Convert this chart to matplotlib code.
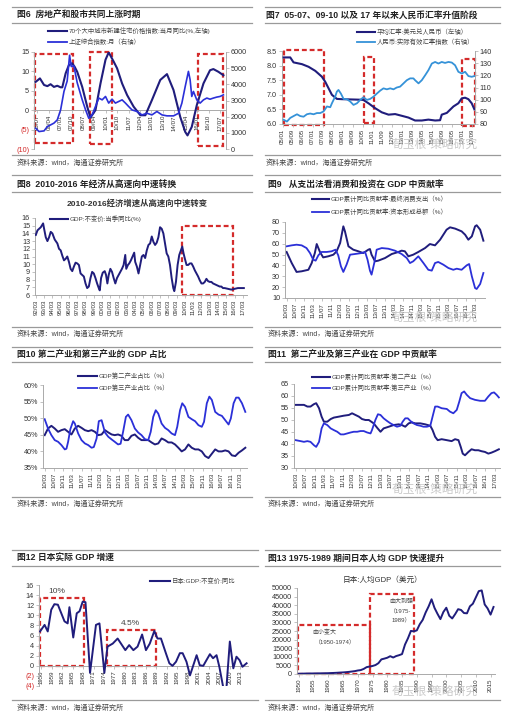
import numpy as np
import matplotlib
matplotlib.use('Agg')
import matplotlib.pyplot as plt
from matplotlib.lines import Line2D
from matplotlib.patches import Rectangle

plt.rcParams['font.family'] = ['Liberation Sans', 'Noto Sans CJK SC']

# ---------------- data ----------------
fig6_ticks = ['05/07', '06/04', '07/01', '07/10', '08/07', '09/04', '10/01', '10/10', '11/07',
              '12/04', '13/01', '13/10', '14/07', '15/04', '16/01', '16/10', '17/07']
fig6_house_t = [2005.39, 2005.67, 2005.94, 2006.16, 2006.37, 2006.59, 2006.81, 2007.03, 2007.14,
                2007.36, 2007.57, 2007.79, 2007.95, 2008.12, 2008.45, 2008.78, 2008.99, 2009.32,
                2009.65, 2009.98, 2010.19, 2010.52, 2010.74, 2011.07, 2011.4, 2011.83, 2012.27,
                2012.6, 2013.03, 2013.58, 2014.02, 2014.45, 2014.89, 2015.22, 2015.37, 2015.65,
                2015.98, 2016.42, 2016.85, 2017.07, 2017.4, 2017.73]
fig6_house_v = [7.3, 8.2, 6.5, 6.2, 6.7, 6.0, 6.3, 5.9, 5.9, 9.5, 11.6, 12.1, 11.2, 9.9, 6.0, 0.9,
                -1.9, 0.0, 6.9, 13.0, 14.9, 12.5, 10.8, 6.9, 3.9, 0.9, -1.3, -1.3, 2.6, 7.8, 9.3,
                5.2, -1.7, -5.6, -6.5, -4.3, 1.3, 6.9, 10.3, 10.6, 9.9, 9.0]
fig6_sh_t = [2005.39, 2005.61, 2005.94, 2006.16, 2006.37, 2006.59, 2006.81, 2007.03, 2007.25,
             2007.46, 2007.62, 2007.73, 2007.9, 2008.12, 2008.45, 2008.67, 2008.88, 2009.1,
             2009.32, 2009.54, 2009.76, 2009.98, 2010.19, 2010.41, 2010.63, 2010.85, 2011.07,
             2011.29, 2011.5, 2011.72, 2012.05, 2012.38, 2012.7, 2013.03, 2013.36, 2013.69,
             2014.02, 2014.45, 2014.78, 2015.0, 2015.22, 2015.43, 2015.54, 2015.65, 2015.76,
             2015.98, 2016.2, 2016.42, 2016.64, 2016.85, 2017.07, 2017.29, 2017.51, 2017.73]
fig6_sh_v = [1280, 1080, 1120, 1390, 1490, 1600, 1800, 2420, 3560, 4200, 5800, 5100, 5150, 4100,
             3040, 2420, 1900, 2110, 2630, 3150, 3040, 3250, 2840, 3080, 2840, 2940, 3040, 2840,
             2630, 2420, 2320, 2110, 2210, 2110, 2320, 2110, 2050, 2050, 2210, 2840, 3870, 4800,
             4290, 3250, 3560, 3040, 2840, 3040, 3150, 3080, 3150, 3210, 3250, 3350]
fig6_periods = [(2005.33, 2007.86, -8.4, 14.4), (2008.95, 2010.41, -8.6, 14.9),
                (2016.09, 2017.68, -9.2, 14.4)]

fig7_ticks = ['05/01', '05/09', '06/05', '07/01', '07/09', '08/05', '09/01', '09/09', '10/05',
              '11/01', '11/09', '12/05', '13/01', '13/09', '14/05', '15/01', '15/09', '16/05',
              '17/01', '17/09']
fig7_fx_t = [2005.07, 2005.51, 2005.73, 2006.29, 2006.73, 2007.18, 2007.62, 2007.84, 2008.07,
             2008.29, 2008.62, 2008.96, 2010.29, 2010.4, 2010.73, 2011.18, 2011.62, 2012.07,
             2012.51, 2012.96, 2013.4, 2013.84, 2014.29, 2014.73, 2015.18, 2015.51, 2015.62,
             2015.96, 2016.18, 2016.4, 2016.73, 2016.96, 2017.18, 2017.4, 2017.62, 2017.8]
fig7_fx_v = [8.28, 8.28, 8.11, 8.05, 7.96, 7.82, 7.62, 7.45, 7.22, 7.0, 6.86, 6.85, 6.83, 6.82,
             6.71, 6.54, 6.40, 6.32, 6.34, 6.28, 6.22, 6.12, 6.12, 6.15, 6.12, 6.13, 6.32, 6.38,
             6.49, 6.6, 6.71, 6.88, 6.9, 6.85, 6.71, 6.5]
fig7_reer_t = [2005.07, 2005.29, 2005.51, 2005.73, 2005.96, 2006.18, 2006.4, 2006.62, 2006.84,
               2007.07, 2007.29, 2007.51, 2007.73, 2007.96, 2008.18, 2008.29, 2008.4, 2008.51,
               2008.62, 2008.73, 2008.89, 2009.07, 2009.29, 2009.51, 2009.73, 2009.96, 2010.18,
               2010.4, 2010.62, 2010.84, 2011.07, 2011.29, 2011.51, 2011.73, 2011.96, 2012.18,
               2012.4, 2012.62, 2012.84, 2013.07, 2013.29, 2013.51, 2013.73, 2013.84, 2014.07,
               2014.29, 2014.51, 2014.73, 2014.96, 2015.18, 2015.4, 2015.62, 2015.84, 2016.07,
               2016.29, 2016.51, 2016.73, 2016.96, 2017.18, 2017.4, 2017.62, 2017.8]
fig7_reer_v = [83.5, 82, 85, 86.5, 88, 86.5, 86, 88, 88.6, 88, 89, 89, 90.3, 94.4, 93.8, 97, 99.8,
               102.5, 106.6, 108, 105, 100.6, 100.4, 98.5, 95.7, 97, 99.8, 102, 99.8, 100.6, 102.5,
               105, 107.4, 109.3, 108.5, 109.3, 108.5, 110, 110.7, 113.4, 116, 117.5, 117.5, 116,
               113.4, 116, 120, 124.2, 129.7, 131, 129.7, 131, 130.2, 131, 130.5, 128.3, 122.9,
               121.5, 122.9, 119.4, 118.8, 119.4]
fig7_periods = [(2005.07, 2007.73, 5.98, 8.55), (2010.4, 2011.07, 6.03, 8.3),
                (2017.0, 2017.84, 5.94, 8.24)]

fig8_ticks = ['92/03', '93/03', '94/03', '95/03', '96/03', '97/03', '98/03', '99/03', '00/03',
              '01/03', '02/03', '03/03', '04/03', '05/03', '06/03', '07/03', '08/03', '09/03',
              '10/03', '11/03', '12/03', '13/03', '14/03', '15/03', '16/03', '17/03']
fig8_t = [1992.0, 1992.2, 1992.6, 1992.88, 1993.0, 1993.2, 1993.4, 1993.6, 1993.8, 1994.0, 1994.28,
          1994.6, 1994.8, 1995.0, 1995.2, 1995.4, 1995.6, 1995.8, 1996.0, 1996.2, 1996.4, 1996.6,
          1996.8, 1997.0, 1997.2, 1997.4, 1997.6, 1997.8, 1998.0, 1998.2, 1998.4, 1998.6, 1998.8,
          1999.0, 1999.2, 1999.4, 1999.6, 1999.72, 1999.88, 2000.08, 2000.32, 2000.48, 2000.64,
          2000.8, 2001.0, 2001.2, 2001.4, 2001.6, 2001.8, 2002.0, 2002.2, 2002.4, 2002.6, 2002.8,
          2002.92, 2003.12, 2003.28, 2003.48, 2003.68, 2003.88, 2004.0, 2004.2, 2004.4, 2004.6,
          2004.8, 2005.0, 2005.2, 2005.4, 2005.6, 2005.8, 2006.0, 2006.2, 2006.4, 2006.6, 2006.8,
          2007.0, 2007.2, 2007.4, 2007.6, 2007.8, 2008.0, 2008.2, 2008.4, 2008.6, 2008.72, 2008.92,
          2009.12, 2009.32, 2009.52, 2009.68, 2009.84, 2010.0, 2010.2, 2010.4, 2010.6, 2010.8,
          2011.0, 2011.2, 2011.4, 2011.6, 2011.8, 2012.0, 2012.2, 2012.4, 2012.6, 2012.8, 2013.0,
          2013.2, 2013.4, 2013.6, 2013.8, 2014.0, 2014.2, 2014.4, 2014.6, 2014.8, 2015.2, 2015.6,
          2016.0, 2016.4, 2016.8, 2017.12]
fig8_v = [13.8, 14.4, 14.8, 15.3, 14.6, 13.5, 13.0, 13.5, 14.2, 14.0, 13.2, 12.7, 12.0, 11.8, 11.1,
          10.5, 10.7, 11.0, 10.3, 9.4, 9.1, 9.7, 10.2, 10.1, 9.9, 8.8, 8.6, 8.4, 7.5, 6.9, 7.1, 8.2,
          9.0, 8.8, 8.2, 7.5, 6.9, 6.6, 8.2, 8.9, 9.1, 8.6, 7.5, 8.6, 9.4, 9.0, 8.2, 7.5, 8.2, 8.6,
          9.0, 9.4, 9.9, 11.2, 9.4, 9.9, 10.1, 10.5, 11.0, 11.5, 10.3, 9.7, 8.8, 9.9, 11.0, 11.2,
          10.8, 11.8, 12.5, 12.7, 13.6, 12.9, 12.5, 12.8, 13.5, 14.8, 14.6, 14.0, 12.7, 11.4, 11.0,
          9.9, 8.2, 6.9, 6.5, 7.7, 9.9, 11.2, 11.8, 12.3, 11.4, 10.7, 9.9, 9.9, 10.1, 10.1, 9.7,
          9.2, 8.8, 8.4, 7.9, 7.5, 7.5, 7.7, 8.1, 7.8, 7.7, 7.7, 7.5, 7.4, 7.3, 7.2, 7.1, 7.1, 6.9,
          6.9, 6.8, 6.7, 6.8, 6.9, 6.9, 6.9]
fig8_period = (2009.6, 2015.8, 6.0, 14.9)

quarter_ticks = ['10/03', '10/07', '10/11', '11/03', '11/07', '11/11', '12/03', '12/07', '12/11',
                 '13/03', '13/07', '13/11', '14/03', '14/07', '14/11', '15/03', '15/07', '15/11',
                 '16/03', '16/07', '16/11', '17/03']
fig9_cons_t = [2010.17, 2010.36, 2010.54, 2010.73, 2010.98, 2011.1, 2011.22, 2011.29, 2011.41,
               2011.53, 2011.72, 2011.91, 2012.03, 2012.16, 2012.28, 2012.34, 2012.47, 2012.65,
               2012.84, 2013.02, 2013.21, 2013.27, 2013.33, 2013.46, 2013.58, 2013.83, 2014.08,
               2014.33, 2014.45, 2014.57, 2014.7, 2014.88, 2015.07, 2015.32, 2015.5, 2015.69,
               2015.88, 2016.12, 2016.25, 2016.44, 2016.68, 2016.81, 2016.93, 2017.06, 2017.18,
               2017.24, 2017.37, 2017.49]
fig9_cons_v = [52.4, 42.2, 34, 34.6, 36, 42, 51.4, 59.7, 52.4, 47.4, 48.4, 49.9, 53, 60.6, 76,
               71.4, 57.6, 54.5, 53, 51.4, 54.5, 55.1, 49.9, 43.8, 44.4, 46.8, 50.5, 52.4, 53.6, 53,
               48.4, 49.9, 52.4, 56, 59.7, 58.5, 63.7, 72.9, 75.1, 73.9, 71.4, 68.3, 63.7, 66.8, 76,
               77, 72.9, 62.8]
fig9_inv_t = [2010.17, 2010.36, 2010.54, 2010.73, 2010.91, 2011.04, 2011.16, 2011.25, 2011.35,
              2011.47, 2011.66, 2011.84, 2011.99, 2012.09, 2012.19, 2012.28, 2012.4, 2012.53,
              2012.71, 2012.96, 2013.09, 2013.18, 2013.27, 2013.33, 2013.43, 2013.52, 2013.71,
              2013.95, 2014.2, 2014.45, 2014.64, 2014.76, 2014.88, 2015.07, 2015.26, 2015.44,
              2015.57, 2015.69, 2015.81, 2016.0, 2016.19, 2016.37, 2016.5, 2016.68, 2016.87,
              2016.96, 2017.06, 2017.18, 2017.24, 2017.37, 2017.49]
fig9_inv_v = [57.6, 58.5, 59.1, 58.5, 56, 51.4, 45.3, 44.4, 49.3, 52.4, 52.4, 53, 54.5, 49.3, 39.2,
              34, 40.7, 49.9, 50.5, 51.4, 52.4, 45.3, 35.2, 31.5, 42.2, 54.5, 56, 55.4, 53.6, 50.5,
              46.8, 42.2, 43.8, 48.4, 42.2, 36, 35.2, 42.2, 43.2, 40.7, 37.6, 36, 37, 36, 40.1, 41.3,
              30, 19.2, 18.3, 22.9, 33]

fig10_sec_t = [2010.17, 2010.29, 2010.41, 2010.53, 2010.65, 2010.77, 2010.89, 2011.01, 2011.13,
               2011.25, 2011.37, 2011.49, 2011.61, 2011.73, 2011.85, 2011.97, 2012.09, 2012.21,
               2012.33, 2012.45, 2012.57, 2012.68, 2012.8, 2012.92, 2013.04, 2013.16, 2013.28,
               2013.4, 2013.52, 2013.64, 2013.76, 2013.88, 2014.0, 2014.12, 2014.24, 2014.36,
               2014.48, 2014.6, 2014.72, 2014.84, 2014.96, 2015.08, 2015.2, 2015.32, 2015.44,
               2015.56, 2015.68, 2015.8, 2015.92, 2016.04, 2016.16, 2016.28, 2016.4, 2016.52,
               2016.64, 2016.76, 2016.88, 2017.0, 2017.12, 2017.24, 2017.36]
fig10_sec_v = [44.9, 46.9, 47.7, 46.9, 45.9, 46.4, 46.7, 45.9, 45.1, 46.9, 47.7, 47.1, 46.4, 46.1,
               46.4, 45.9, 44.9, 45.1, 46.4, 45.7, 45.1, 44.9, 45.1, 44.7, 43.4, 43.4, 44.7, 45.1,
               44.1, 43.4, 43.4, 43.4, 42.7, 42.1, 42.4, 43.9, 43.4, 42.7, 42.7, 42.1, 41.1, 40.0,
               40.6, 42.1, 41.1, 40.6, 40.6, 40.0, 38.6, 38.0, 39.3, 40.6, 40.0, 40.0, 40.3, 40.0,
               38.8, 38.6, 39.6, 40.3, 41.1]
fig10_ter_t = [2010.17, 2010.29, 2010.41, 2010.53, 2010.65, 2010.77, 2010.89, 2010.95, 2011.01,
               2011.09, 2011.19, 2011.25, 2011.37, 2011.49, 2011.61, 2011.73, 2011.85, 2011.93,
               2012.03, 2012.11, 2012.21, 2012.33, 2012.45, 2012.57, 2012.68, 2012.8, 2012.89,
               2012.98, 2013.08, 2013.16, 2013.28, 2013.4, 2013.52, 2013.64, 2013.76, 2013.88,
               2013.97, 2014.06, 2014.15, 2014.24, 2014.36, 2014.48, 2014.6, 2014.72, 2014.84,
               2014.92, 2015.02, 2015.1, 2015.2, 2015.32, 2015.44, 2015.56, 2015.68, 2015.8,
               2015.88, 2015.98, 2016.07, 2016.16, 2016.28, 2016.4, 2016.52, 2016.64, 2016.76,
               2016.84, 2016.94, 2017.03, 2017.12, 2017.24, 2017.36]
fig10_ter_v = [49.7, 46.9, 44.9, 43.4, 42.9, 41.9, 40.6, 40.8, 42.9, 46.7, 49.1, 48.4, 45.4, 43.4,
               42.4, 41.9, 41.1, 41.3, 43.9, 49.1, 49.4, 45.7, 44.4, 43.6, 42.9, 42.1, 42.3, 45.9,
               50.4, 51.1, 49.4, 46.9, 45.7, 44.9, 43.7, 43.4, 45.9, 50.4, 52.4, 51.4, 48.4, 47.1,
               46.4, 45.4, 44.9, 47.4, 52.4, 54.5, 53.4, 50.4, 49.7, 49.1, 47.9, 47.4, 48.9, 54.5,
               56.5, 55.5, 51.9, 51.1, 50.7, 49.4, 48.1, 49.9, 54.5, 56.2, 56.2, 54.5, 51.9]

fig11_sec_t = [2010.17, 2010.34, 2010.46, 2010.58, 2010.69, 2010.81, 2010.89, 2010.99, 2011.08,
               2011.16, 2011.28, 2011.4, 2011.51, 2011.69, 2011.86, 2012.04, 2012.15, 2012.27,
               2012.39, 2012.5, 2012.62, 2012.74, 2012.91, 2013.03, 2013.15, 2013.26, 2013.44,
               2013.61, 2013.79, 2013.9, 2014.02, 2014.14, 2014.25, 2014.37, 2014.55, 2014.72,
               2014.9, 2014.98, 2015.07, 2015.16, 2015.3, 2015.48, 2015.65, 2015.77, 2015.89,
               2015.97, 2016.04, 2016.12, 2016.24, 2016.35, 2016.47, 2016.59, 2016.7, 2016.82,
               2016.94, 2017.05, 2017.17, 2017.31]
fig11_sec_v = [56.3, 56.3, 56.3, 55.6, 55.6, 56.6, 57.0, 54.9, 51.4, 49.3, 49.3, 50.4, 51.0, 51.4,
               51.8, 52.1, 52.8, 52.1, 51.4, 50.4, 50.0, 50.0, 48.6, 46.8, 45.1, 46.5, 47.2, 47.9,
               48.2, 47.9, 47.2, 48.6, 49.0, 48.6, 48.6, 48.2, 47.6, 45.8, 43.0, 41.6, 42.0, 41.6,
               41.2, 42.0, 41.6, 38.8, 36.0, 35.3, 36.7, 37.8, 37.4, 37.4, 37.0, 36.7, 36.0, 36.4,
               37.0, 37.8]
fig11_ter_t = [2010.17, 2010.34, 2010.46, 2010.58, 2010.69, 2010.81, 2010.89, 2010.99, 2011.08,
               2011.16, 2011.28, 2011.4, 2011.51, 2011.63, 2011.75, 2011.86, 2011.98, 2012.1,
               2012.21, 2012.33, 2012.45, 2012.56, 2012.68, 2012.8, 2012.85, 2012.97, 2013.06,
               2013.15, 2013.26, 2013.38, 2013.5, 2013.61, 2013.73, 2013.85, 2013.93, 2014.02,
               2014.11, 2014.2, 2014.31, 2014.43, 2014.55, 2014.66, 2014.78, 2014.9, 2014.98,
               2015.07, 2015.16, 2015.3, 2015.48, 2015.59, 2015.71, 2015.83, 2015.92, 2016.0,
               2016.09, 2016.18, 2016.3, 2016.47, 2016.65, 2016.82, 2016.94, 2017.05, 2017.14,
               2017.23, 2017.31]
fig11_ter_v = [41.6, 41.2, 40.9, 41.2, 40.9, 39.5, 38.8, 40.9, 46.5, 48.6, 47.9, 46.5, 45.8, 45.1,
               44.0, 44.0, 44.4, 44.8, 45.1, 45.1, 45.4, 45.4, 44.8, 44.4, 45.8, 50.0, 52.4, 52.1,
               50.7, 49.6, 48.6, 47.9, 47.2, 47.6, 49.3, 50.7, 50.7, 49.6, 48.6, 47.9, 47.6, 47.2,
               47.2, 47.6, 51.4, 55.6, 55.6, 54.9, 54.6, 53.5, 52.8, 54.2, 57.7, 61.2, 61.9, 60.5,
               59.1, 58.4, 58.0, 58.0, 59.8, 61.2, 61.5, 60.5, 59.4]

fig12_ticks = ['1956', '1959', '1962', '1965', '1968', '1971', '1974', '1977', '1980', '1983',
               '1986', '1989', '1992', '1995', '1998', '2001', '2004', '2007', '2010', '2013']
fig12_t = [1955.7, 1957.0, 1957.9, 1958.9, 1959.8, 1960.8, 1962.7, 1963.6, 1964.1, 1965.2, 1966.2,
           1967.0, 1967.9, 1968.7, 1970.0, 1971.7, 1972.7, 1974.1, 1975.0, 1976.5, 1977.9, 1980.1,
           1981.2, 1982.4, 1983.6, 1984.9, 1986.0, 1987.1, 1988.4, 1989.3, 1990.3, 1991.7, 1992.7,
           1993.6, 1994.6, 1995.7, 1996.5, 1997.6, 1998.6, 1999.5, 2000.5, 2001.4, 2002.4, 2003.3,
           2004.3, 2005.2, 2006.2, 2007.0, 2008.2, 2009.0, 2010.0, 2011.0, 2011.9, 2012.8, 2013.6,
           2014.8]
fig12_v = [6.8, 8.1, 6.8, 11.1, 12.2, 12.1, 8.8, 8.4, 11.6, 5.6, 10.4, 10.8, 12.7, 12.6, -1.4, 8.1,
           8.4, -1.4, 3.8, 4.4, 5.4, 3.1, 4.1, 3.1, 3.8, 6.2, 3.1, 4.4, 6.9, 5.4, 5.4, 2.5, 0.5, 0.0,
           0.8, 2.5, 2.5, 0.8, -1.9, 0.0, 2.1, 0.1, 0.0, 1.1, 2.3, 1.5, 2.1, -0.2, -4.6, -4.6, 4.8,
           -0.5, 1.8, 1.1, -0.2, 0.5]
fig12_periods = [(1955.7, 1968.4, 0, 13.4, '10%'), (1974.9, 1989.0, 0, 7.1, '4.5%')]

fig13_ticks = ['1950', '1955', '1960', '1965', '1970', '1975', '1980', '1985', '1990', '1995',
               '2000', '2005', '2010', '2015']
fig13_year = list(range(1950, 2017))
fig13_gdp = [150, 200, 250, 280, 300, 320, 350, 380, 400, 440, 480, 560, 630, 720, 840, 920, 1060,
             1230, 1450, 1670, 2040, 2270, 2950, 3990, 4350, 4660, 5200, 6300, 8500, 8950, 9460,
             10360, 9580, 10430, 10940, 11580, 17110, 20750, 25050, 24810, 25360, 28920, 31460,
             35770, 39270, 43440, 38440, 35020, 31900, 36030, 38530, 33850, 32290, 34810, 37690,
             37220, 35430, 35280, 39340, 40860, 44510, 48170, 48600, 40450, 38110, 34520, 38970]
fig13_periods = [(1949.8, 1974.1, 0, 28400), (1974.1, 1989.2, 0, 46300)]

# ---------------- drawing ----------------
W, H = 527, 718
NAVY = '#201d7c'
BLUE = '#2b30d8'
SKY = '#3592d8'
RED = '#d42b2b'
TXT = '#333333'
RULE = '#9a9a9a'
SOURCE = '资料来源：wind，海通证券研究所'

fig = plt.figure(figsize=(W / 100, H / 100), dpi=100)


def pax(x0, y0, x1, y1):
    ax = fig.add_axes([x0 / W, 1 - y1 / H, (x1 - x0) / W, (y1 - y0) / H])
    ax.patch.set_alpha(0)
    for s in ['top', 'right']:
        ax.spines[s].set_visible(False)
    for s in ['left', 'bottom']:
        ax.spines[s].set_color('#aaaaaa')
        ax.spines[s].set_linewidth(0.7)
    ax.tick_params(labelsize=5.2, length=2, width=0.5, color='#aaaaaa', pad=1.5, labelcolor=TXT)
    return ax


def rule(x0, x1, y):
    fig.add_artist(Line2D([x0 / W, x1 / W], [1 - y / H] * 2, color=RULE, lw=0.9))


def ftext(x, y, s, **kw):
    kw.setdefault('va', 'center')
    fig.text(x / W, 1 - y / H, s, **kw)


def legend_entry(x0, x1, y, color, lw, label, size=4.6):
    fig.add_artist(Line2D([x0 / W, x1 / W], [1 - y / H] * 2, color=color, lw=lw))
    ftext(x1 + 2, y, label, fontsize=size, color='#444444')


def panel(x0, x1, ytop, ytitle, ymid, ybot, ysrc, title, tx):
    rule(x0, x1, ytop)
    ftext(tx, ytitle, title, fontsize=6.3, fontweight='bold', color='#222222')
    rule(x0, x1, ymid)
    rule(x0, x1, ybot)
    ftext(tx, ysrc, SOURCE, fontsize=5.1, color='#444444')


def dashed(ax, x0, x1, y0, y1):
    ax.add_patch(Rectangle((x0, y0), x1 - x0, y1 - y0, fill=False, ec=RED, lw=1.6,
                           ls=(0, (2.2, 1.3)), clip_on=False, zorder=1))


def lab2x(s):
    yy, mm = s.split('/')
    yy = int(yy)
    return (1900 if yy >= 50 else 2000) + yy + (int(mm) - 1) / 12


def set_xt(ax, pos, labels):
    ax.set_xticks(pos)
    ax.set_xticklabels(labels, rotation=90, fontsize=4.4)


def twin_style(tw):
    tw.patch.set_alpha(0)
    for s in ['top', 'left', 'bottom']:
        tw.spines[s].set_visible(False)
    tw.spines['right'].set_color('#aaaaaa')
    tw.spines['right'].set_linewidth(0.7)
    tw.tick_params(labelsize=5.2, length=2, width=0.5, color='#aaaaaa', pad=1.5, labelcolor=TXT)


def watermark(x, y):
    ftext(x, y, '荀玉根-策略研究', fontsize=8.5, color='#c4c4c4', alpha=0.9)


# ---- Fig 6 ----
panel(12, 252, 7, 15, 23, 155, 163, '图6  房地产和股市共同上涨时期', 17)
legend_entry(48, 67, 31, NAVY, 1.5, '70个大中城市新建住宅价格指数:当月同比(%,左轴)')
legend_entry(48, 67, 42, BLUE, 1.3, '上证综合指数:月（右轴）')
ax = pax(34, 52, 226, 149)
ax.plot(fig6_house_t, fig6_house_v, color=NAVY, lw=1.5, zorder=3)
ax.set_xlim(2005.28, 2017.9)
ax.set_ylim(-10, 15)
ax.set_yticks([-10, -5, 0, 5, 10, 15])
ax.set_yticklabels(['(10)', '(5)', '0', '5', '10', '15'])
for lab in ax.get_yticklabels()[:2]:
    lab.set_color(RED)
ax.spines['bottom'].set_position(('data', 0))
set_xt(ax, [lab2x(s) for s in fig6_ticks], fig6_ticks)
for x0, x1, y0, y1 in fig6_periods:
    dashed(ax, x0, x1, y0, y1)
tw = ax.twinx()
tw.plot(fig6_sh_t, fig6_sh_v, color=BLUE, lw=1.2)
tw.set_ylim(0, 6000)
tw.set_yticks(range(0, 6001, 1000))
twin_style(tw)

# ---- Fig 7 ----
panel(265, 500, 7, 15, 23, 155, 163, '图7  05-07、09-10 以及 17 年以来人民币汇率升值阶段', 266)
legend_entry(357, 375, 32, NAVY, 1.5, '平均汇率:美元兑人民币（左轴）')
legend_entry(357, 375, 42, SKY, 1.3, '人民币:实际有效汇率指数（右轴）')
ax = pax(282, 51, 475, 124)
ax.plot(fig7_fx_t, fig7_fx_v, color=NAVY, lw=1.5, zorder=3)
ax.set_xlim(2004.96, 2017.84)
ax.set_ylim(6.0, 8.5)
ax.set_yticks([6.0, 6.5, 7.0, 7.5, 8.0, 8.5])
ax.set_yticklabels(['6.0', '6.5', '7.0', '7.5', '8.0', '8.5'])
set_xt(ax, [lab2x(s) for s in fig7_ticks], fig7_ticks)
for x0, x1, y0, y1 in fig7_periods:
    dashed(ax, x0, x1, y0, y1)
tw = ax.twinx()
tw.plot(fig7_reer_t, fig7_reer_v, color=SKY, lw=1.3)
tw.set_ylim(80, 140)
tw.set_yticks(range(80, 141, 10))
twin_style(tw)
watermark(392, 145)

# ---- Fig 8 ----
panel(12, 252, 175, 185, 192, 327, 334, '图8  2010-2016 年经济从高速向中速转换', 17)
ftext(137, 204, '2010-2016经济增速从高速向中速转变', fontsize=6, fontweight='bold',
      color='#333333', ha='center')
ax = pax(35, 218, 247, 295)
ax.plot(fig8_t, fig8_v, color=NAVY, lw=1.4, zorder=3)
ax.set_xlim(1991.9, 2017.5)
ax.set_ylim(6, 16)
ax.set_yticks(range(6, 17))
set_xt(ax, np.arange(1992, 2018), fig8_ticks)
dashed(ax, *fig8_period)
legend_entry(50, 68, 219, NAVY, 1.5, 'GDP:不变价:当季同比(%)')

# ---- Fig 9 ----
panel(265, 500, 175, 184, 192, 327, 334, '图9   从支出法看消费和投资在 GDP 中贡献率', 268)
legend_entry(312, 329, 199, NAVY, 1.5, 'GDP累计同比贡献率:最终消费支出（%）')
legend_entry(312, 329, 212, BLUE, 1.3, 'GDP累计同比贡献率:资本形成总额（%）')
ax = pax(285, 222, 485, 298)
ax.plot(fig9_cons_t, fig9_cons_v, color=NAVY, lw=1.4)
ax.plot(fig9_inv_t, fig9_inv_v, color=BLUE, lw=1.3)
ax.set_xlim(2010.11, 2017.55)
ax.set_ylim(10, 80)
ax.set_yticks(range(10, 81, 10))
set_xt(ax, [lab2x(s) for s in quarter_ticks], quarter_ticks)
watermark(392, 318)

# ---- Fig 10 ----
panel(12, 252, 347, 355, 362, 497, 504, '图10 第二产业和第三产业的 GDP 占比', 17)
legend_entry(78, 97, 376, NAVY, 1.5, 'GDP第二产业占比（%）')
legend_entry(78, 97, 388, BLUE, 1.3, 'GDP第三产业占比（%）')
ax = pax(43, 385, 247, 468)
ax.plot(fig10_sec_t, fig10_sec_v, color=NAVY, lw=1.4)
ax.plot(fig10_ter_t, fig10_ter_v, color=BLUE, lw=1.3)
ax.set_xlim(2010.11, 2017.42)
ax.set_ylim(35, 60)
ax.set_yticks(range(35, 61, 5))
ax.set_yticklabels([f'{v}%' for v in range(35, 61, 5)])
set_xt(ax, [lab2x(s) for s in quarter_ticks], quarter_ticks)

# ---- Fig 11 ----
panel(265, 500, 347, 355, 362, 497, 504, '图11  第二产业及第三产业在 GDP 中贡献率', 268)
legend_entry(312, 330, 377, NAVY, 1.5, 'GDP累计同比贡献率:第二产业（%）')
legend_entry(312, 330, 388, BLUE, 1.3, 'GDP累计同比贡献率:第三产业（%）')
ax = pax(294, 384, 500, 468)
ax.plot(fig11_sec_t, fig11_sec_v, color=NAVY, lw=1.4)
ax.plot(fig11_ter_t, fig11_ter_v, color=BLUE, lw=1.3)
ax.set_xlim(2010.11, 2017.35)
ax.set_ylim(30, 65)
ax.set_yticks(range(30, 66, 5))
set_xt(ax, [lab2x(s) for s in quarter_ticks], quarter_ticks)
watermark(392, 490)

# ---- Fig 12 ----
panel(12, 258, 550, 558, 566, 700, 708, '图12 日本实际 GDP 增速', 17)
legend_entry(150, 170, 581, NAVY, 1.5, '日本:GDP:不变价:同比')
ax = pax(39, 585, 248, 686)
ax.plot(fig12_t, fig12_v, color=NAVY, lw=1.4, zorder=3)
ax.set_xlim(1955.4, 2015.2)
ax.set_ylim(-4, 16)
ax.set_yticks(range(-4, 17, 2))
ax.set_yticklabels(['(4)', '(2)'] + [str(v) for v in range(0, 17, 2)])
for lab in ax.get_yticklabels()[:2]:
    lab.set_color(RED)
ax.spines['bottom'].set_position(('data', 0))
set_xt(ax, [int(s) for s in fig12_ticks], fig12_ticks)
for x0, x1, y0, y1, lab in fig12_periods:
    dashed(ax, x0, x1, y0, y1)
    ax.text((x0 + x1) / 2 - 1.5 if lab == '10%' else (x0 + x1) / 2 - 0.5, y1 + 1.3, lab,
            fontsize=6, color='#444444', ha='center', va='center')

# ---- Fig 13 ----
panel(265, 500, 550, 558, 566, 700, 708, '图13 1975-1989 期间日本人均 GDP 快速提升', 268)
ftext(382, 580, '日本:人均GDP（美元）', fontsize=5.5, color='#333333', ha='center')
ax = pax(297, 588, 495, 674)
ax.plot(fig13_year, fig13_gdp, color=NAVY, lw=1.4, zorder=3)
ax.set_xlim(1949.4, 2016.5)
ax.set_ylim(0, 50000)
ax.set_yticks(range(0, 50001, 5000))
set_xt(ax, [int(s) for s in fig13_ticks], fig13_ticks)
for x0, x1, y0, y1 in fig13_periods:
    dashed(ax, x0, x1, y0, y1)
ax.text(1954.5, 24500, '由小变大', fontsize=4.3, color='#444444', va='center')
ax.text(1955.5, 18700, '（1950-1974）', fontsize=4.3, color='#444444', va='center')
ax.text(1980.8, 42300, '由大到强', fontsize=4.3, color='#444444', va='center')
ax.text(1980.8, 36700, '（1975-', fontsize=4.3, color='#444444', va='center')
ax.text(1981.4, 31900, '1989）', fontsize=4.3, color='#444444', va='center')
watermark(392, 692)

fig.savefig('out.png', dpi=100)
